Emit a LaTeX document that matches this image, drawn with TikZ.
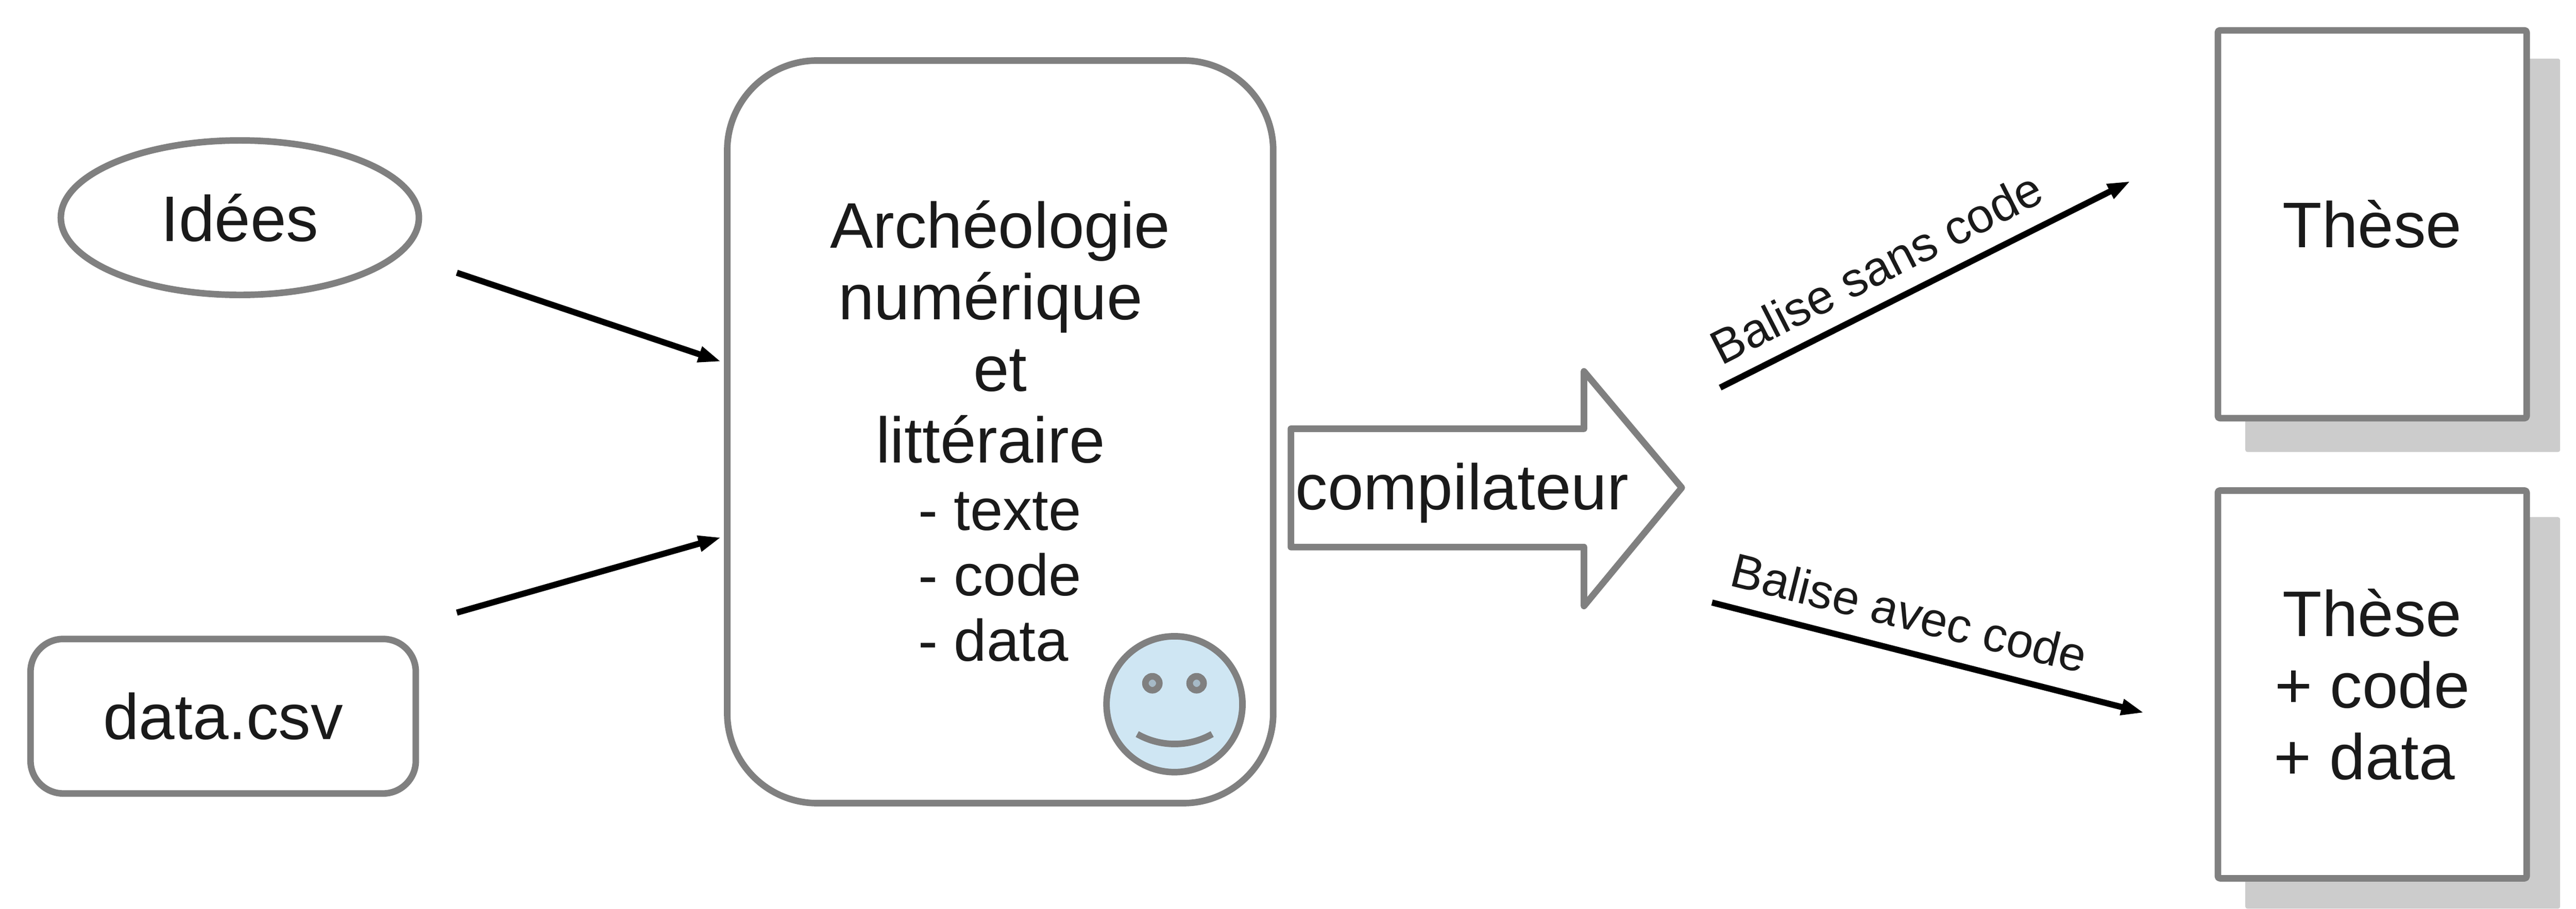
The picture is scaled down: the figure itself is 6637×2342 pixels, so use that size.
\documentclass[tikz,border=0pt]{standalone}
\usepackage{fontspec}
\setmainfont{Liberation Sans}
\usetikzlibrary{arrows.meta,shapes.geometric}
\definecolor{edgegray}{HTML}{808080}
\definecolor{inkdark}{HTML}{1A1A1A}
\definecolor{shadowgray}{HTML}{CCCCCC}
\definecolor{faceblue}{HTML}{CFE6F3}
\definecolor{eyeblue}{HTML}{A6BAC7}
\tikzset{
  outline/.style={draw=edgegray,line width=4.8pt,line join=round,inner sep=0pt,outer sep=0pt,text=inkdark},
  bigtext/.style={font=\fontsize{47.2}{52.5}\selectfont,text=inkdark,inner sep=0pt,outer sep=0pt},
  listtext/.style={font=\fontsize{43}{48}\selectfont,text=inkdark,inner sep=0pt,outer sep=0pt},
  slanttext/.style={font=\fontsize{35.3}{41}\selectfont,text=inkdark,inner sep=0pt,outer sep=0pt},
  flow/.style={line width=4.5pt,draw=black,-{Triangle[length=16.8pt,width=11.1pt]}},
  shadowbox/.style={fill=shadowgray,rounded corners=1.5pt},
  page/.style={outline,fill=white,rounded corners=1.5pt,minimum width=7.95cm,minimum height=9.99cm,align=center,font=\fontsize{47.2}{52.5}\selectfont},
}
\begin{document}
\begin{tikzpicture}[x=0.01cm,y=-0.01cm]
\useasboundingbox (0,0) rectangle (6637,2342);
% shadows
\fill[shadowbox] (5785,151) rectangle (6596,1165);
\fill[shadowbox] (5785,1333) rectangle (6596,2342);
% sources
\node[outline,ellipse,fill=white,minimum width=9.22cm,minimum height=3.98cm,font=\fontsize{47.2}{52.5}\selectfont] (idees) at (618,561) {Idées};
\node[outline,rectangle,rounded corners=24pt,fill=white,minimum width=9.92cm,minimum height=3.98cm,font=\fontsize{47.2}{52.5}\selectfont] (data) at (575,1846) {data.csv};
% central box
\node[outline,rectangle,rounded corners=66pt,fill=white,minimum width=14.06cm,minimum height=19.13cm] (arch) at (2577,1113) {};
\node[bigtext,align=center] (archtitle) at (2577,856) {Archéologie\\numérique\rule{0.5cm}{0pt}\\et\\littéraire\rule{0.5cm}{0pt}};
\node[listtext,align=left,anchor=west] (archlist) at (2366,1487) {- texte\\- code\\- data};
% smiley
\node[outline,circle,fill=faceblue,minimum size=3.5cm] (face) at (3026,1815) {};
\node[outline,circle,fill=eyeblue,minimum size=0.36cm] (eyeL) at (2969,1761) {};
\node[outline,circle,fill=eyeblue,minimum size=0.36cm] (eyeR) at (3083,1761) {};
\coordinate (smileL) at (2930,1892);
\coordinate (smileR) at (3123,1892);
\draw[edgegray,line width=4.8pt] (smileL) .. controls (2990,1926) and (3063,1926) .. (smileR);
% compiler arrow
\draw[outline,fill=white] (3326,1105) -- (4081,1105) -- (4081,957) -- (4333,1257) -- (4081,1562) -- (4081,1410) -- (3326,1410) -- cycle;
\node[bigtext] (compil) at (3767,1270) {compilateur};
% outputs
\node[page] (these1) at (6112,578) {Thèse};
\node[page] (these2) at (6112,1764) {Thèse\\+ code\\+ data\rule{0.4cm}{0pt}};
% connectors
\coordinate (a1s) at (1177,703);
\coordinate (a1e) at (1858,932);
\coordinate (a2s) at (1177,1579);
\coordinate (a2e) at (1858,1385);
\coordinate (a3s) at (4432,999);
\coordinate (a3e) at (5489,467);
\coordinate (a4s) at (4411,1553);
\coordinate (a4e) at (5524,1837);
\draw[flow] (a1s) -- (a1e);
\draw[flow] (a2s) -- (a2e);
\draw[flow] (a3s) -- (a3e);
\draw[flow] (a4s) -- (a4e);
\node[slanttext,rotate=27] (lab1) at (4834,690) {Balise sans code};
\node[slanttext,rotate=-14] (lab2) at (4919,1579) {Balise avec code};
\end{tikzpicture}
\end{document}
